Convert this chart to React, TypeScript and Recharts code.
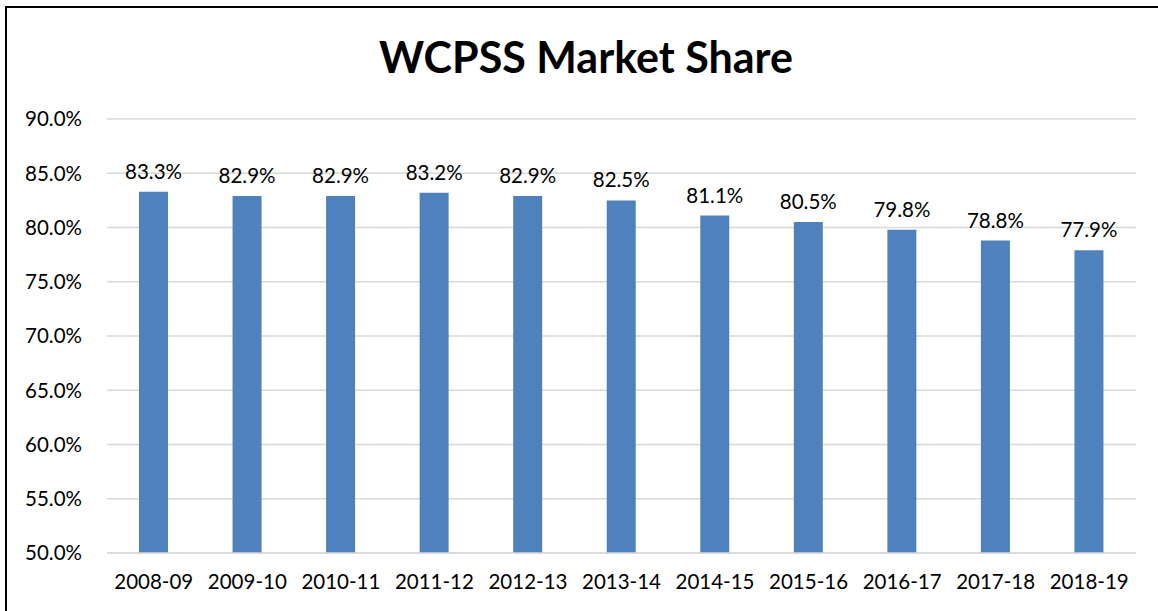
import { BarChart, Bar, XAxis, YAxis, CartesianGrid, LabelList } from 'recharts';

const years = [
  '2008-09', '2009-10', '2010-11', '2011-12', '2012-13', '2013-14',
  '2014-15', '2015-16', '2016-17', '2017-18', '2018-19',
];
const share = [83.3, 82.9, 82.9, 83.2, 82.9, 82.5, 81.1, 80.5, 79.8, 78.8, 77.9];
const yTicks = [50, 55, 60, 65, 70, 75, 80, 85, 90];

const data = years.map((year, i) => ({ year, share: share[i] }));

const FONT = 'Lato, "Open Sans", sans-serif';
const pct = (v: number) => `${v.toFixed(1)}%`;

export default function App() {
  return (
    <div style={{ position: 'fixed', left: 0, top: 0, width: 1158, height: 611, background: '#fff', overflow: 'hidden', fontFamily: FONT }}>
      <div style={{ position: 'absolute', left: 5, top: 6, width: 1200, height: 700, borderLeft: '2px solid #000', borderTop: '2px solid #000' }} />
      <div style={{ position: 'absolute', left: 0, top: 31, width: 1172, textAlign: 'center', fontSize: 43, fontWeight: 700, color: '#000' }}>
        WCPSS Market Share
      </div>
      <div style={{ position: 'absolute', left: 0, top: 0 }}>
        <BarChart width={1158} height={611} data={data} margin={{ top: 119, right: 22, bottom: 28, left: 0 }}>
          <CartesianGrid vertical={false} stroke="#d9d9d9" strokeWidth={1.5} />
          <XAxis
            dataKey="year"
            height={30}
            axisLine={{ stroke: '#d9d9d9', strokeWidth: 1.5 }}
            tickLine={false}
            tickSize={0}
            tickMargin={21}
            tick={{ fill: '#000', fontSize: 20.5, fontFamily: FONT }}
            interval={0}
          />
          <YAxis
            width={107}
            domain={[50, 90]}
            ticks={yTicks}
            tickFormatter={pct}
            axisLine={false}
            tickLine={false}
            tickSize={0}
            tickMargin={25}
            tick={{ fill: '#000', fontSize: 20.5, fontFamily: FONT }}
          />
          <Bar dataKey="share" fill="#4f81bd" barSize={29} isAnimationActive={false}>
            <LabelList dataKey="share" position="top" offset={13} formatter={(v: number) => pct(v)} fill="#000" fontSize={20.5} fontFamily={FONT} />
          </Bar>
        </BarChart>
      </div>
    </div>
  );
}
